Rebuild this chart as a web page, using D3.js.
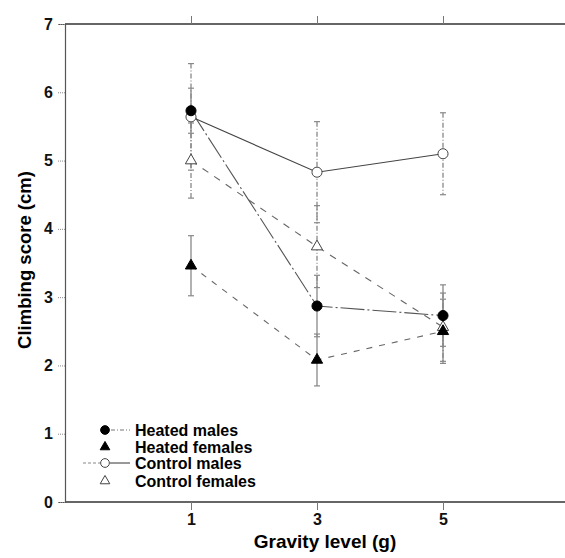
<!DOCTYPE html>
<html>
<head>
<meta charset="utf-8">
<script src="https://cdn.jsdelivr.net/npm/d3@7"></script>
<style>
  body { margin: 0; background: #fff; }
  svg { display: block; font-family: "Liberation Sans", Arial, sans-serif; font-weight: bold; }
</style>
</head>
<body>
<div id="chart"></div>
<script>
// data
var gravity = [1, 3, 5];
var heatedMales = [5.73, 2.87, 2.73];
var heatedMalesErr = [0.33, 0.45, 0.45];
var heatedFemales = [3.46, 2.08, 2.50];
var heatedFemalesErr = [0.44, 0.38, 0.47];
var controlMales = [5.64, 4.83, 5.10];
var controlMalesErr = [0.78, 0.74, 0.60];
var controlFemales = [5.00, 3.74, 2.56];
var controlFemalesErr = [0.55, 0.60, 0.50];
var yTicks = [0, 1, 2, 3, 4, 5, 6, 7];
var seriesNames = ['Heated males', 'Heated females', 'Control males', 'Control females'];

var width = 565, height = 558;

var x = d3.scaleLinear().domain([-1, 7]).range([65, 569]);
var y = d3.scaleLinear().domain([0, 7]).range([502, 24]);

var svg = d3.select('#chart').append('svg')
  .attr('width', width)
  .attr('height', height);

// style per series (kept apart from the values)
var series = [
  {name: seriesNames[0], vals: heatedMales, err: heatedMalesErr, symbol: d3.symbolCircle, size: 80, fill: '#000', dash: '24,3,2,3', line: '#555'},
  {name: seriesNames[1], vals: heatedFemales, err: heatedFemalesErr, symbol: d3.symbolTriangle, size: 55, fill: '#000', dash: '6,7', line: '#666'},
  {name: seriesNames[2], vals: controlMales, err: controlMalesErr, symbol: d3.symbolCircle, size: 80, fill: '#fff', dash: null, line: '#444'},
  {name: seriesNames[3], vals: controlFemales, err: controlFemalesErr, symbol: d3.symbolTriangle, size: 55, fill: '#fff', dash: '7,7', line: '#666'}
];

// frame
svg.append('line').attr('x1', x(-1)).attr('x2', width).attr('y1', y(7)).attr('y2', y(7))
  .style('stroke', '#333').style('stroke-width', 1.5);
svg.append('line').attr('x1', x(-1)).attr('x2', width).attr('y1', y(0)).attr('y2', y(0))
  .style('stroke', '#333').style('stroke-width', 1.5);

// y axis
var yAxis = d3.axisLeft(y).tickValues(yTicks).tickFormat(d3.format('d')).tickSize(7).tickPadding(5);
var gy = svg.append('g').attr('transform', 'translate(' + x(-1) + ',0)').call(yAxis);
gy.select('.domain').style('stroke', '#555').style('stroke-width', 1.2);
gy.selectAll('.tick line').style('stroke', '#888').style('stroke-dasharray', '1,1');
gy.selectAll('.tick text').style('font-size', '16px').style('font-weight', 'bold').style('fill', '#111')
  .style('font-family', '"Liberation Sans", Arial, sans-serif');

// x axis (bottom)
var xAxis = d3.axisBottom(x).tickValues(gravity).tickFormat(d3.format('d')).tickSize(8).tickPadding(4);
var gx = svg.append('g').attr('transform', 'translate(0,' + y(0) + ')').call(xAxis);
gx.select('.domain').remove();
gx.selectAll('.tick line').style('stroke', '#777');
gx.selectAll('.tick text').style('font-size', '16px').style('font-weight', 'bold').style('fill', '#111')
  .style('font-family', '"Liberation Sans", Arial, sans-serif');

// x axis (top ticks only)
var gt = svg.append('g').attr('transform', 'translate(0,' + y(7) + ')')
  .call(d3.axisTop(x).tickValues(gravity).tickFormat('').tickSize(8));
gt.select('.domain').remove();
gt.selectAll('.tick line').style('stroke', '#777');

// titles
svg.append('text')
  .attr('x', 325).attr('y', 548)
  .attr('text-anchor', 'middle')
  .style('font-size', '19px')
  .text('Gravity level (g)');

svg.append('text')
  .attr('transform', 'translate(31,' + 260 + ') rotate(-90)')
  .attr('text-anchor', 'middle')
  .style('font-size', '18.5px')
  .text('Climbing score (cm)');

// error bars
series.forEach(function (s) {
  var g = svg.append('g');
  g.selectAll('line.bar')
    .data(gravity)
    .enter().append('line')
    .attr('class', 'bar')
    .attr('x1', function (d) { return x(d); })
    .attr('x2', function (d) { return x(d); })
    .attr('y1', function (d, i) { return y(s.vals[i] + s.err[i]); })
    .attr('y2', function (d, i) { return y(s.vals[i] - s.err[i]); })
    .style('stroke', '#888').style('stroke-width', 1.3)
    .style('stroke-dasharray', s.fill === '#fff' ? '5,2,1,2' : null);
  [1, -1].forEach(function (sign) {
    g.selectAll('line.cap' + sign)
      .data(gravity)
      .enter().append('line')
      .attr('x1', function (d) { return x(d) - 3; })
      .attr('x2', function (d) { return x(d) + 3; })
      .attr('y1', function (d, i) { return y(s.vals[i] + sign * s.err[i]); })
      .attr('y2', function (d, i) { return y(s.vals[i] + sign * s.err[i]); })
      .style('stroke', '#888').style('stroke-width', 1.2);
  });
});

// connecting lines
var line = d3.line()
  .x(function (d) { return x(d.g); })
  .y(function (d) { return y(d.v); });

series.forEach(function (s) {
  svg.append('path')
    .datum(gravity.map(function (g, i) { return {g: g, v: s.vals[i]}; }))
    .attr('d', line)
    .style('fill', 'none')
    .style('stroke', s.line)
    .style('stroke-width', 1.1)
    .style('stroke-dasharray', s.dash);
});

// markers
series.slice().reverse().forEach(function (s) {
  svg.selectAll(null)
    .data(gravity)
    .enter().append('path')
    .attr('d', d3.symbol().type(s.symbol).size(s.size))
    .attr('transform', function (d, i) { return 'translate(' + x(d) + ',' + y(s.vals[i]) + ')'; })
    .style('fill', s.fill)
    .style('stroke', s.fill === '#fff' ? '#444' : '#000')
    .style('stroke-width', 1);
});

// legend
var legendY = [430, 447, 463, 481];
var lg = svg.append('g');
series.forEach(function (s, i) {
  var row = lg.append('g').attr('transform', 'translate(0,' + legendY[i] + ')');
  if (i === 0) {
    row.append('line').attr('x1', 111).attr('x2', 130).attr('y1', 0).attr('y2', 0)
      .style('stroke', '#777').style('stroke-dasharray', '4,2,1,2');
  }
  if (i === 2) {
    row.append('line').attr('x1', 83).attr('x2', 100).attr('y1', 0).attr('y2', 0)
      .style('stroke', '#888').style('stroke-dasharray', '3,2');
    row.append('line').attr('x1', 110).attr('x2', 130).attr('y1', 0).attr('y2', 0)
      .style('stroke', '#333');
  }
  row.append('path')
    .attr('d', d3.symbol().type(s.symbol).size(s.symbol === d3.symbolCircle ? 60 : 40))
    .attr('transform', 'translate(105,0)')
    .style('fill', s.fill)
    .style('stroke', s.fill === '#fff' ? '#444' : '#000');
  row.append('text')
    .attr('x', 135).attr('y', 5.5)
    .style('font-size', '16px')
    .text(s.name);
});
</script>
</body>
</html>
